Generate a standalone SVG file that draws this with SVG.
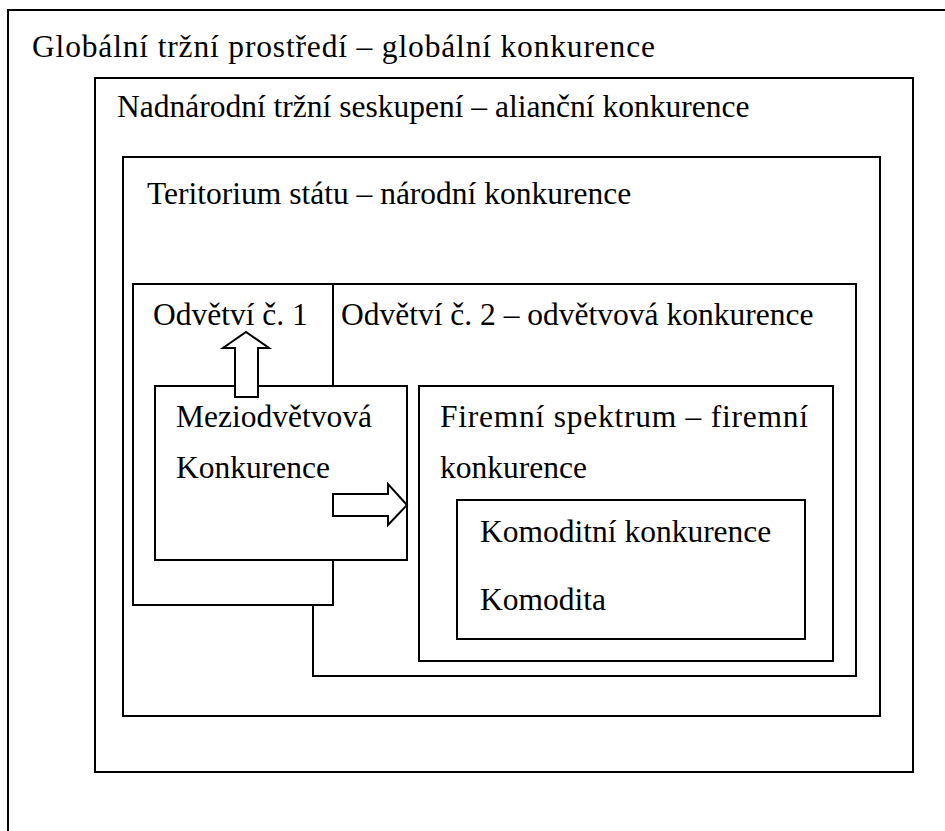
<svg xmlns="http://www.w3.org/2000/svg" width="945" height="831" viewBox="0 0 945 831">
  <style>
    .box { fill: #ffffff; stroke: #000000; stroke-width: 2; }
    .frame { fill: none; stroke: #000000; stroke-width: 2; }
    .lbl { font-family: "Liberation Serif", "Times New Roman", serif; font-size: 31.5px; fill: #000000; }
    .arrow { fill: #ffffff; stroke: #000000; stroke-width: 2; stroke-linejoin: miter; }
  </style>
  <rect x="0" y="0" width="945" height="831" fill="#ffffff"/>

  <!-- outermost frame: open on the right and bottom -->
  <g id="global">
    <path class="frame" d="M8,831 V10 H945"/>
    <text class="lbl" x="32" y="57" textLength="623" lengthAdjust="spacing">Globální tržní prostředí – globální konkurence</text>
  </g>

  <g id="nadnarodni">
    <rect class="box" x="95" y="78" width="818" height="694"/>
    <text class="lbl" x="117" y="117">Nadnárodní tržní seskupení – alianční konkurence</text>
  </g>

  <g id="teritorium">
    <rect class="box" x="123" y="157" width="757" height="559"/>
    <text class="lbl" x="147" y="204">Teritorium státu – národní konkurence</text>
  </g>

  <!-- industry 2 sits behind industry 1; only its lower-left corner shows -->
  <g id="odvetvi2">
    <rect class="box" x="313" y="284" width="543" height="392"/>
    <text class="lbl" x="341" y="325">Odvětví č. 2 – odvětvová konkurence</text>
  </g>

  <g id="odvetvi1">
    <rect class="box" x="133" y="284" width="200" height="321"/>
    <text class="lbl" x="153" y="325">Odvětví č. 1</text>
  </g>

  <g id="meziodvetvova">
    <rect class="box" x="155" y="386" width="252" height="174"/>
    <text class="lbl" x="176" y="427">Meziodvětvová</text>
    <text class="lbl" x="176" y="478">Konkurence</text>
  </g>

  <g id="firemni">
    <rect class="box" x="419" y="386" width="414" height="275"/>
    <text class="lbl" x="440" y="427" textLength="368" lengthAdjust="spacing">Firemní spektrum – firemní</text>
    <text class="lbl" x="440" y="478">konkurence</text>
  </g>

  <g id="komodita">
    <rect class="box" x="457" y="500" width="348" height="139"/>
    <text class="lbl" x="480" y="542">Komoditní konkurence</text>
    <text class="lbl" x="480" y="610">Komodita</text>
  </g>

  <!-- hollow block arrows -->
  <g id="connectors">
    <polygon class="arrow" points="235,397 235,348 223,348 246,332 269,348 258,348 258,397"/>
    <polygon class="arrow" points="333,494 388,494 388,484 407,505 388,525 388,516 333,516"/>
  </g>
</svg>
